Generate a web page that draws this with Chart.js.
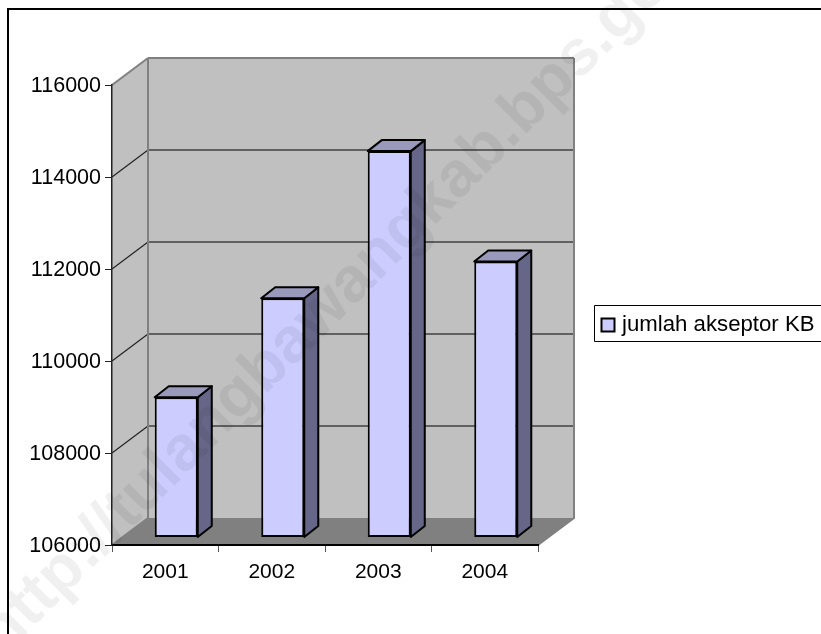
<!DOCTYPE html>
<html>
<head>
<meta charset="utf-8">
<style>
body { margin: 0; background: #fff; }
canvas { display: block; }
</style>
<script src="https://cdn.jsdelivr.net/npm/chart.js@4"></script>
</head>
<body>
<canvas id="chart" width="821" height="634"></canvas>
<script>
const years = ['2001', '2002', '2003', '2004'];
const akseptor = [109050, 111200, 114400, 112000];
const seriesName = 'jumlah akseptor KB';
const watermark = 'http://tulangbawangkab.bps.go.id';

const axisMin = 106000, axisMax = 116000, axisStep = 2000;

const fontName = '"Liberation Sans", Arial, sans-serif';

// fake 3d depth: walls go back by this much, bars sit half way in
const wallDx = 36, wallDy = 27;
const barShiftX = 11, barShiftY = -7.5;
const barDx = 14, barDy = -11;

function polygon(ctx, pts, fill, stroke, lw) {
    ctx.beginPath();
    ctx.moveTo(pts[0][0], pts[0][1]);
    for (let i = 1; i < pts.length; i++) ctx.lineTo(pts[i][0], pts[i][1]);
    ctx.closePath();
    if (fill) { ctx.fillStyle = fill; ctx.fill(); }
    if (stroke) { ctx.strokeStyle = stroke; ctx.lineWidth = lw; ctx.lineJoin = 'round'; ctx.stroke(); }
}

const box3d = {
    id: 'box3d',
    afterLayout(chart) {
        // legend sits outside the plot, at the right edge of the page
        const lg = chart.legend;
        lg.left = 598; lg.right = 821; lg.top = 307; lg.bottom = 342;
        lg.width = 223; lg.height = 35;
    },
    beforeDraw(chart) {
        const ctx = chart.ctx, a = chart.chartArea, y = chart.scales.y;
        ctx.save();
        // outer frame, only top and left show
        ctx.strokeStyle = '#000';
        ctx.lineWidth = 2;
        ctx.beginPath();
        ctx.moveTo(8, 634); ctx.lineTo(8, 9); ctx.lineTo(821, 9);
        ctx.stroke();

        const l = a.left, r = a.right, t = a.top, b = a.bottom;
        polygon(ctx, [[l, t], [l + wallDx, t - wallDy], [l + wallDx, b - wallDy], [l, b]], '#c0c0c0');
        polygon(ctx, [[l + wallDx, t - wallDy], [r + wallDx, t - wallDy], [r + wallDx, b - wallDy], [l + wallDx, b - wallDy]], '#c0c0c0');
        polygon(ctx, [[l, b], [l + wallDx, b - wallDy], [r + wallDx, b - wallDy], [r, b]], '#808080');

        y.ticks.forEach(tick => {
            const py = y.getPixelForValue(tick.value);
            if (tick.value === y.min) return;
            const top = tick.value === y.max;
            ctx.lineWidth = top ? 2 : 1.2;
            ctx.strokeStyle = top ? '#808080' : '#222';
            ctx.beginPath();
            ctx.moveTo(l, py);
            ctx.lineTo(l + wallDx, py - wallDy);
            ctx.stroke();
            ctx.lineWidth = top ? 2 : 1.5;
            ctx.strokeStyle = top ? '#808080' : '#404040';
            ctx.beginPath();
            ctx.moveTo(l + wallDx, py - wallDy);
            ctx.lineTo(r + wallDx, py - wallDy);
            ctx.stroke();
        });
        // wall edges
        ctx.strokeStyle = '#808080';
        ctx.lineWidth = 2;
        ctx.beginPath();
        ctx.moveTo(l, b); ctx.lineTo(l + wallDx, b - wallDy); ctx.lineTo(l + wallDx, t - wallDy);
        ctx.moveTo(r, b); ctx.lineTo(r + wallDx, b - wallDy); ctx.lineTo(r + wallDx, t - wallDy);
        ctx.stroke();
        ctx.restore();
    },
    beforeDatasetsDraw(chart) {
        const ctx = chart.ctx;
        ctx.save();
        ctx.translate(barShiftX, barShiftY);
        chart.getDatasetMeta(0).data.forEach(bar => {
            const x0 = bar.x - bar.width / 2, x1 = bar.x + bar.width / 2;
            polygon(ctx, [[x1, bar.y], [x1 + barDx, bar.y + barDy], [x1 + barDx, bar.base + barDy], [x1, bar.base]], '#666688', '#000', 2);
            polygon(ctx, [[x0, bar.y], [x0 + barDx, bar.y + barDy], [x1 + barDx, bar.y + barDy], [x1, bar.y]], '#9999bb', '#000', 2);
        });
    },
    afterDatasetsDraw(chart) {
        chart.ctx.restore();
    },
    afterDraw(chart) {
        const ctx = chart.ctx;
        ctx.save();
        ctx.strokeStyle = '#000';
        ctx.lineWidth = 1;
        ctx.beginPath();
        ctx.moveTo(821, 305.5); ctx.lineTo(594.5, 305.5);
        ctx.lineTo(594.5, 341.5); ctx.lineTo(821, 341.5);
        ctx.stroke();
        // site watermark over everything
        ctx.translate(3, 657);
        ctx.rotate(-Math.PI / 4);
        ctx.font = 'bold 64px ' + fontName;
        ctx.fillStyle = 'rgba(0,0,0,0.06)';
        ctx.textBaseline = 'alphabetic';
        ctx.fillText(watermark, 0, 0);
        ctx.restore();
    }
};

new Chart(document.getElementById('chart'), {
    type: 'bar',
    data: {
        labels: years,
        datasets: [{
            label: seriesName,
            data: akseptor,
            base: axisMin,
            backgroundColor: '#ccccff',
            borderColor: '#000',
            borderWidth: 2,
            borderSkipped: false,
            barPercentage: 0.404,
            categoryPercentage: 1
        }]
    },
    plugins: [box3d],
    options: {
        responsive: false,
        animation: false,
        layout: { padding: { left: 0, top: 85, right: 283, bottom: 0 } },
        font: { family: fontName },
        scales: {
            x: {
                afterFit(scale) { scale.height = 89; },
                border: { color: '#000', width: 2 },
                grid: { drawOnChartArea: false, drawTicks: true, tickLength: 7, color: '#555', offset: true },
                ticks: { color: '#000', font: { family: fontName, size: 21 }, padding: 8, maxRotation: 0 }
            },
            y: {
                min: axisMin,
                max: axisMax,
                afterFit(scale) { scale.width = 112; },
                border: { color: '#222', width: 1.5 },
                grid: { drawOnChartArea: false, drawTicks: true, tickLength: 7, color: '#222' },
                ticks: {
                    stepSize: axisStep,
                    color: '#000',
                    padding: 4,
                    labelOffset: 1,
                    font: { family: fontName, size: 21.5 },
                    callback: v => String(v)
                }
            }
        },
        plugins: {
            tooltip: { enabled: false },
            title: { display: false },
            legend: {
                position: 'chartArea',
                align: 'start',
                labels: {
                    usePointStyle: true,
                    pointStyle: 'rect',
                    boxWidth: 6,
                    boxHeight: 13,
                    padding: 7,
                    color: '#000',
                    font: { family: fontName, size: 22.2 }
                }
            }
        }
    }
});
</script>
</body>
</html>
